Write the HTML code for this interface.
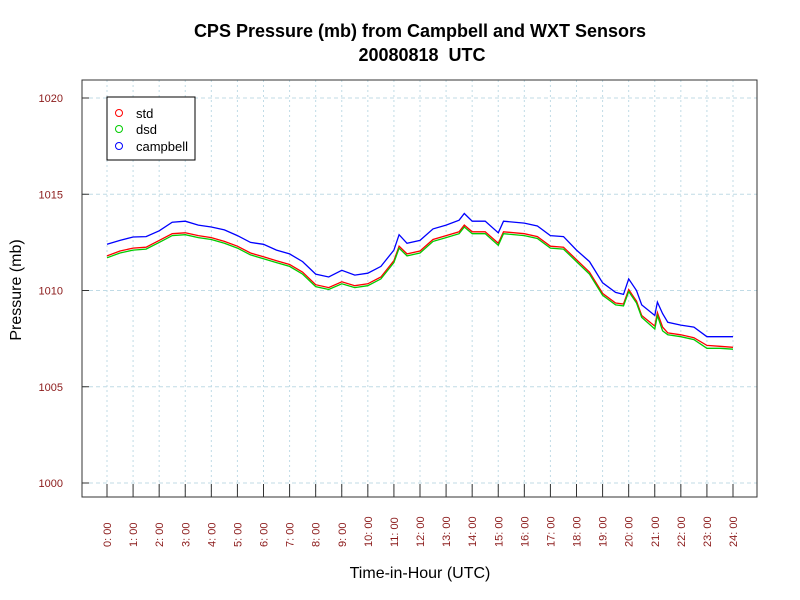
<!DOCTYPE html>
<html><head><meta charset="utf-8"><style>body{margin:0;background:#fff}svg{display:block}</style></head>
<body>
<svg width="800" height="600" xmlns="http://www.w3.org/2000/svg" font-family="Liberation Sans, sans-serif">
<rect width="800" height="600" fill="#fff"/>
<text x="420" y="37" text-anchor="middle" font-size="18" font-weight="bold">CPS Pressure (mb) from Campbell and WXT Sensors</text>
<text x="422" y="61" text-anchor="middle" font-size="18" font-weight="bold" xml:space="preserve">20080818  UTC</text>
<g id="grid"></g>
<g id="axes"></g>
<g id="series"></g>
<rect x="82" y="80" width="675" height="417" fill="none" stroke="#333" stroke-width="1"/>
<text x="420" y="578" text-anchor="middle" font-size="16">Time-in-Hour (UTC)</text>
<text transform="translate(21,290) rotate(-90)" text-anchor="middle" font-size="16">Pressure (mb)</text>
<g>
<rect x="107" y="97" width="88" height="63" fill="#fff" stroke="#000"/>
<circle cx="119" cy="113" r="3.5" fill="none" stroke="#f00"/><text x="136" y="118" font-size="13">std</text>
<circle cx="119" cy="129" r="3.5" fill="none" stroke="#0c0"/><text x="136" y="134" font-size="13">dsd</text>
<circle cx="119" cy="146" r="3.5" fill="none" stroke="#00f"/><text x="136" y="151" font-size="13">campbell</text>
</g>
<script>
const times=[0,0.5,1,1.5,2,2.5,3,3.5,4,4.5,5,5.5,6,6.5,7,7.5,8,8.5,9,9.5,10,10.5,11,11.2,11.5,12,12.5,13,13.5,13.7,14,14.5,15,15.2,16,16.5,17,17.5,18,18.5,19,19.5,19.8,20,20.3,20.5,21,21.1,21.3,21.5,22,22.5,23,23.5,24];
const campbell=[1012.4,1012.6,1012.78,1012.8,1013.1,1013.55,1013.6,1013.4,1013.3,1013.15,1012.85,1012.5,1012.4,1012.1,1011.9,1011.5,1010.85,1010.7,1011.05,1010.8,1010.9,1011.25,1012.1,1012.9,1012.45,1012.6,1013.2,1013.4,1013.65,1014.0,1013.6,1013.6,1013.0,1013.6,1013.5,1013.35,1012.85,1012.8,1012.1,1011.5,1010.4,1009.9,1009.8,1010.6,1010.0,1009.25,1008.7,1009.4,1008.8,1008.35,1008.2,1008.1,1007.6,1007.6,1007.6];
const std=[1011.8,1012.05,1012.2,1012.25,1012.6,1012.95,1013.0,1012.85,1012.75,1012.55,1012.3,1011.95,1011.75,1011.55,1011.35,1010.95,1010.3,1010.15,1010.45,1010.25,1010.35,1010.7,1011.55,1012.3,1011.9,1012.05,1012.65,1012.85,1013.05,1013.4,1013.05,1013.05,1012.45,1013.05,1012.95,1012.8,1012.3,1012.25,1011.6,1010.95,1009.85,1009.35,1009.3,1010.05,1009.45,1008.7,1008.15,1008.85,1008.1,1007.8,1007.7,1007.55,1007.15,1007.1,1007.05];
const dsd=[1011.7,1011.95,1012.1,1012.15,1012.5,1012.85,1012.9,1012.75,1012.65,1012.45,1012.2,1011.85,1011.65,1011.45,1011.25,1010.85,1010.2,1010.05,1010.35,1010.15,1010.25,1010.6,1011.45,1012.2,1011.8,1011.95,1012.55,1012.75,1012.95,1013.3,1012.95,1012.95,1012.35,1012.95,1012.85,1012.7,1012.2,1012.15,1011.5,1010.85,1009.75,1009.25,1009.2,1009.95,1009.35,1008.6,1008.0,1008.7,1007.9,1007.7,1007.6,1007.45,1007.0,1007.0,1006.95];
const yTicks=[1000,1005,1010,1015,1020];
const xTicks=[0,1,2,3,4,5,6,7,8,9,10,11,12,13,14,15,16,17,18,19,20,21,22,23,24];
const NS='http://www.w3.org/2000/svg';
const X=h=>107+h*(733-107)/24;
const Y=v=>483-(v-1000)*(483-98)/20;
function mk(tag,attrs,parent){const e=document.createElementNS(NS,tag);for(const k in attrs)e.setAttribute(k,attrs[k]);parent.appendChild(e);return e;}
const grid=document.getElementById('grid'),axes=document.getElementById('axes'),ser=document.getElementById('series');
yTicks.forEach(v=>{
 const g=mk('line',{x1:82,x2:757,y1:Y(v),y2:Y(v),stroke:'#c0dbe6','stroke-dasharray':'4,3'},grid);
 
 
 const t=mk('line',{x1:82,x2:89,y1:Y(v),y2:Y(v),stroke:'#333'},axes);
 
 
 const l=mk('text',{x:63,y:Y(v)+4,'text-anchor':'end','font-size':11,fill:'#8b1a1a'},axes);
 l.textContent=v;
 
 
});
xTicks.forEach(h=>{
 const g=mk('line',{x1:X(h),x2:X(h),y1:80,y2:497,stroke:'#c0dbe6','stroke-dasharray':'2,3'},grid);
 
 
 const t=mk('line',{x1:X(h),x2:X(h),y1:484,y2:497,stroke:'#333'},axes);
 
 
 const l=mk('text',{transform:`translate(${X(h)+4},547) rotate(-90)`,'font-size':11,fill:'#8b1a1a'},axes);
 l.textContent=h+': 00';
 
 
});
[[std,'#f00','std-line'],[dsd,'#0c0','dsd-line'],[campbell,'#00f','campbell-line']].forEach(([arr,c,n])=>{
 let d='';arr.forEach((v,i)=>{d+=(i?'L':'M')+X(times[i]).toFixed(1)+','+Y(v).toFixed(1);});
 const p=mk('path',{d:d,fill:'none',stroke:c,'stroke-width':1.3},ser);
 
 
});
</script>
</svg>
</body></html>
